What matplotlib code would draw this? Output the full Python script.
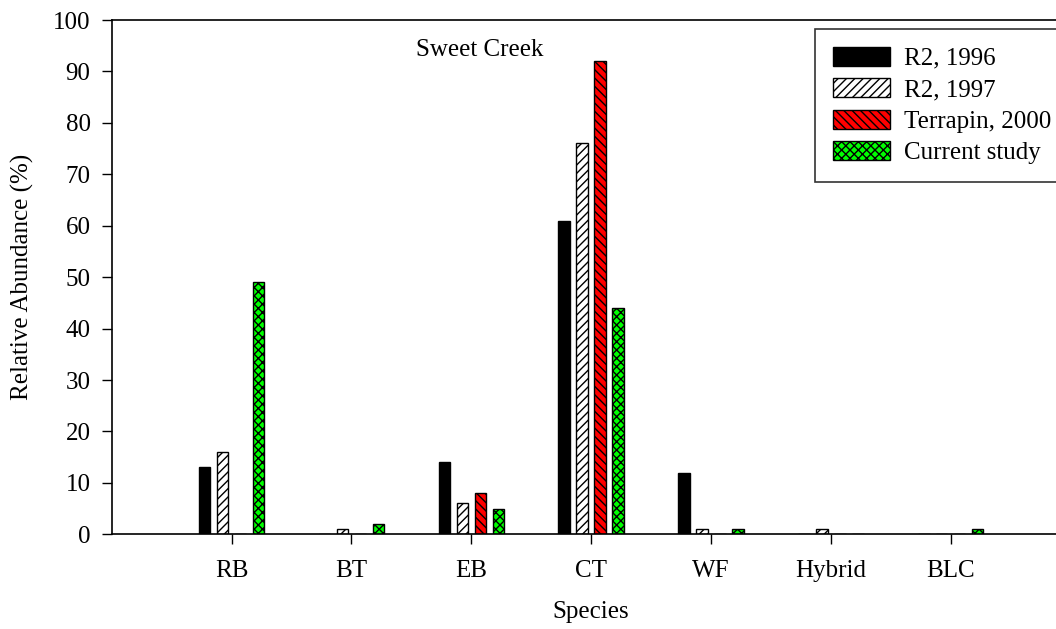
import matplotlib
matplotlib.use("Agg")
import matplotlib.pyplot as plt
import numpy as np

# Relative abundance (%) of each species, Sweet Creek
species = ["RB", "BT", "EB", "CT", "WF", "Hybrid", "BLC"]
r2_1996 = [13, 0, 14, 61, 12, 0, 0]
r2_1997 = [16, 1, 6, 76, 1, 1, 0]
terrapin_2000 = [0, 0, 8, 92, 0, 0, 0]
current_study = [49, 2, 5, 44, 1, 0, 1]

series = [
    ("R2, 1996", r2_1996, "black", ""),
    ("R2, 1997", r2_1997, "white", "////"),
    ("Terrapin, 2000", terrapin_2000, "#ff0000", "\\\\\\\\"),
    ("Current study", current_study, "#00ff00", "xxxx"),
]

plt.rcParams["font.family"] = ["Liberation Serif", "DejaVu Serif"]
plt.rcParams["hatch.linewidth"] = 1.0

fig = plt.figure(figsize=(10.56, 6.29), dpi=100)
ax = fig.add_axes([0.1058, 0.1505, 0.908, 0.8177])

x = np.arange(len(species))
width = 0.096
step = 0.15
for i, (label, vals, color, hatch) in enumerate(series):
    ax.bar(x + (i - 1.5) * step, vals, width, color=color, hatch=hatch,
           edgecolor="black", linewidth=1.0, label=label)

ax.set_xlim(-1.0, 7.0)
ax.set_ylim(0, 100)
ax.set_yticks(np.arange(0, 101, 10))
ax.set_xticks(x)
ax.set_xticklabels(species)
ax.spines["right"].set_visible(False)
for s in ax.spines.values():
    s.set_linewidth(1.2)
ax.tick_params(direction="out", length=7.2, width=1.0, labelsize=18)
ax.tick_params(axis="x", pad=11)
ax.tick_params(axis="y", pad=8)

ax.set_xlabel("Species", fontsize=18, labelpad=14)
ax.set_ylabel("Relative Abundance (%)", fontsize=18, labelpad=14)

ax.text(2.07, 94.2, "Sweet Creek", fontsize=18, ha="center", va="center")

leg = ax.legend(loc="upper left", bbox_to_anchor=(815 / 1056, 1 - 29 / 629),
                bbox_transform=fig.transFigure, borderaxespad=0, fontsize=18,
                frameon=True, fancybox=False, edgecolor="black",
                handlelength=2.3, handleheight=0.8, handletextpad=0.55,
                labelspacing=0.33, borderpad=0.7)
leg.get_frame().set_linewidth(1.2)

fig.savefig("out.png", dpi=100)
